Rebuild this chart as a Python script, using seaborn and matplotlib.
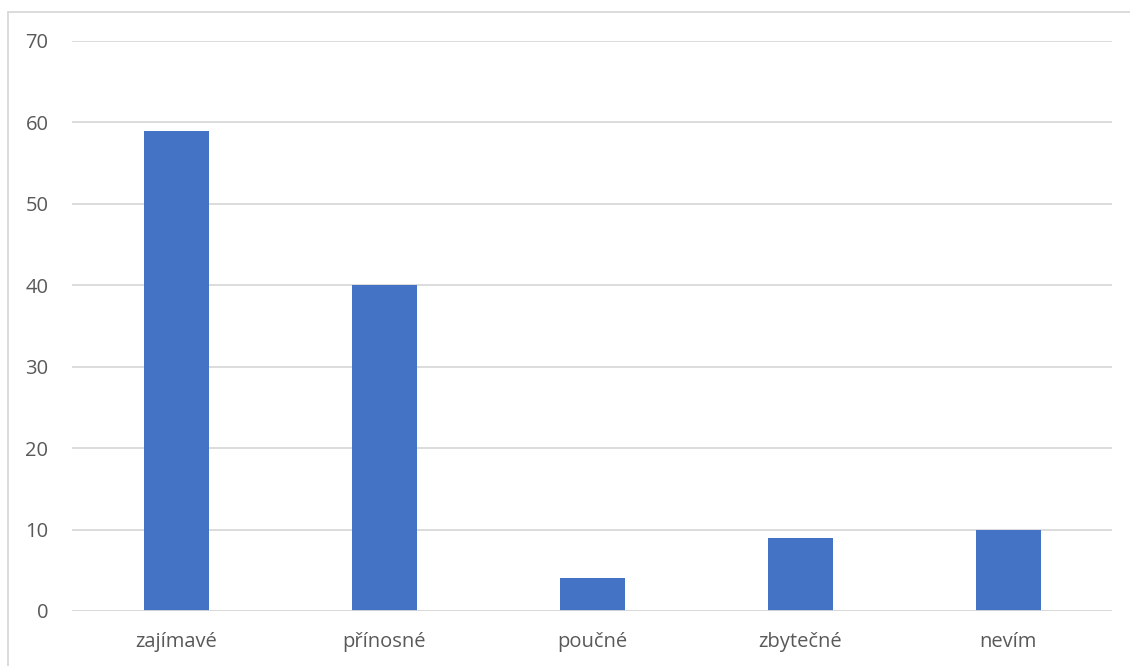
import pandas as pd
import matplotlib
matplotlib.use("Agg")
import matplotlib.pyplot as plt
import seaborn as sns
from matplotlib.lines import Line2D

# data
kategorie = ["zajímavé", "přínosné", "poučné", "zbytečné", "nevím"]
pocty = [59, 40, 4, 9, 10]

df = pd.DataFrame({"kategorie": kategorie, "pocet": pocty})

sns.set_style("white")
plt.rcParams["font.family"] = ["Open Sans", "DejaVu Sans"]

W, H = 1130, 666
fig = plt.figure(figsize=(W / 100, H / 100), dpi=100)
ax = fig.add_axes([72 / W, 1 - 611 / H, (1112 - 72) / W, (611 - 41) / H])

sns.barplot(data=df, x="kategorie", y="pocet", color="#4472C4", width=0.3125,
            saturation=1, linewidth=0, ax=ax, zorder=3)

ax.set_xlim(-0.5, len(kategorie) - 0.5)
ax.set_ylim(0, 70)
ax.set_yticks(range(0, 71, 10))
ax.yaxis.grid(True, color="#d9d9d9", linewidth=1.3, zorder=0)
ax.xaxis.grid(False)
for s in ax.spines.values():
    s.set_visible(False)
ax.axhline(0, color="#d9d9d9", linewidth=1.3, zorder=4)

ax.set_xlabel("")
ax.set_ylabel("")
ax.tick_params(axis="both", length=0, labelsize=14.5, labelcolor="#595959")
ax.tick_params(axis="y", pad=17)
ax.tick_params(axis="x", pad=15)

# light frame of the chart area (only top and left are visible)
fig.add_artist(Line2D([7.5 / W, 7.5 / W], [0, 1 - 12 / H], color="#d9d9d9", linewidth=1.3))
fig.add_artist(Line2D([7.5 / W, 1], [1 - 12 / H, 1 - 12 / H], color="#d9d9d9", linewidth=1.3))

fig.savefig("out.png", dpi=100)
